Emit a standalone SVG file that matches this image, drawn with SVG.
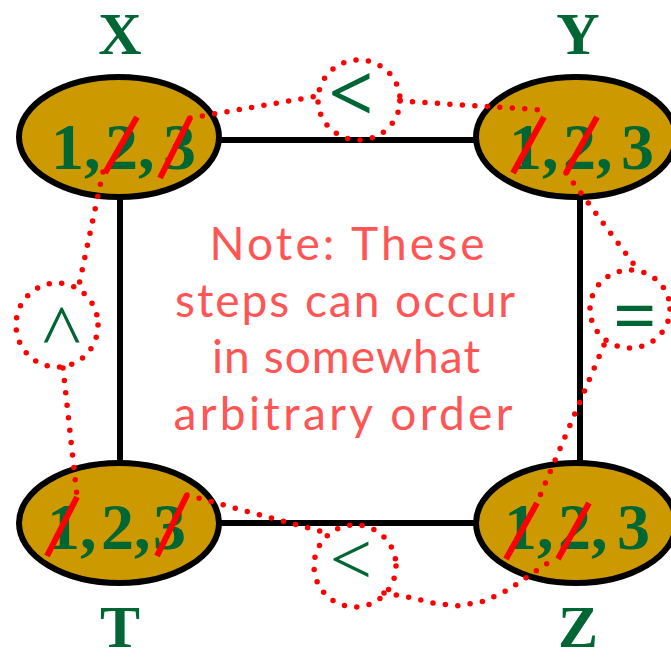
<svg xmlns="http://www.w3.org/2000/svg" width="671" height="661" viewBox="0 0 671 661">
<style>
.edge{stroke:#000;stroke-width:6;fill:none}
.node{fill:#CC9900;stroke:#000;stroke-width:6}
.num{font-family:"Liberation Serif","Times New Roman",serif;font-weight:bold;font-size:66px;fill:#006633}
.lbl{font-family:"Liberation Serif","Times New Roman",serif;font-weight:bold;font-size:60px;fill:#006633;text-anchor:middle}
.strike{stroke:#FF0000;stroke-width:6;fill:none}
.dots{stroke:#FF0000;stroke-width:5.5;fill:none;stroke-linecap:round;stroke-dasharray:0 12.5}
.op{font-family:"Liberation Serif","Times New Roman",serif;fill:#006633;text-anchor:middle}
.note{font-family:"Lato","Noto Sans",sans-serif;font-size:46px;fill:#FF5555;text-anchor:middle}
</style>
<rect width="671" height="661" fill="#fff"/>
<g id="connectors">
<line class="edge" x1="200" y1="140" x2="500" y2="140"/>
<line class="edge" x1="200" y1="523" x2="500" y2="523"/>
<line class="edge" x1="120" y1="180" x2="120" y2="480"/>
<line class="edge" x1="580" y1="180" x2="580" y2="480"/>
</g>
<g id="X">
<ellipse class="node" cx="119" cy="137" rx="100" ry="60"/>
<text class="num" x="51 84 105 138 163" y="169">1,2,3</text>
<line class="strike" x1="105" y1="173" x2="137" y2="117"/>
<line class="strike" x1="160" y1="178" x2="190" y2="118"/>
<text class="lbl" x="120" y="54">X</text>
</g>
<g id="Y">
<ellipse class="node" cx="576" cy="137" rx="100" ry="60"/>
<text class="num" x="509 542 563 596 621" y="169">1,2,3</text>
<line class="strike" x1="513" y1="173" x2="544" y2="117"/>
<line class="strike" x1="566" y1="173" x2="597" y2="117"/>
<text class="lbl" x="578" y="54">Y</text>
</g>
<g id="T">
<ellipse class="node" cx="119" cy="523" rx="100" ry="60"/>
<text class="num" x="47 80 101 134 153" y="549">1,2,3</text>
<line class="strike" x1="47" y1="556" x2="77" y2="497"/>
<line class="strike" x1="157" y1="556" x2="187" y2="495"/>
<text class="lbl" x="120" y="647">T</text>
</g>
<g id="Z">
<ellipse class="node" cx="576" cy="523" rx="100" ry="60"/>
<text class="num" x="504 537 558 591 617" y="549">1,2,3</text>
<line class="strike" x1="506" y1="559" x2="537" y2="503"/>
<line class="strike" x1="558" y1="559" x2="589" y2="503"/>
<text class="lbl" x="578" y="647">Z</text>
</g>
<g id="constraints">
<path class="dots" d="M190,118 L318,96"/>
<ellipse class="dots" cx="359" cy="100" rx="41" ry="40"/>
<path class="dots" d="M400,101 L543,110"/>
<text class="op" x="351" y="120" font-size="80" font-weight="bold">&lt;</text>
<path class="dots" d="M103,172 L79,285"/>
<ellipse class="dots" cx="57" cy="325" rx="41" ry="42"/>
<path class="dots" d="M63,368 L77,496"/>
<text class="op" x="56" y="344" font-size="75" transform="rotate(90 56 325)">&lt;</text>
<path class="dots" d="M566,173 L638,270"/>
<ellipse class="dots" cx="630" cy="309" rx="40" ry="39"/>
<path class="dots" d="M604,345 L537,503"/>
<text class="op" x="635" y="341" font-size="76" font-weight="bold">=</text>
<path class="dots" d="M187,495 L323,532"/>
<ellipse class="dots" cx="355" cy="566" rx="41" ry="41"/>
<path class="dots" d="M384,593 L408,597 L433,603 L459,606 L485,601 L508,590 L530,575 L552,560"/>
<text class="op" x="351" y="584" font-size="75">&lt;</text>
</g>
<g id="note">
<text class="note" x="347" y="260" textLength="275" lengthAdjust="spacing">Note: These</text>
<text class="note" x="345" y="317" textLength="340" lengthAdjust="spacing">steps can occur</text>
<text class="note" x="346" y="373" textLength="268" lengthAdjust="spacing">in somewhat</text>
<text class="note" x="343" y="430" textLength="339" lengthAdjust="spacing">arbitrary order</text>
</g>
</svg>
